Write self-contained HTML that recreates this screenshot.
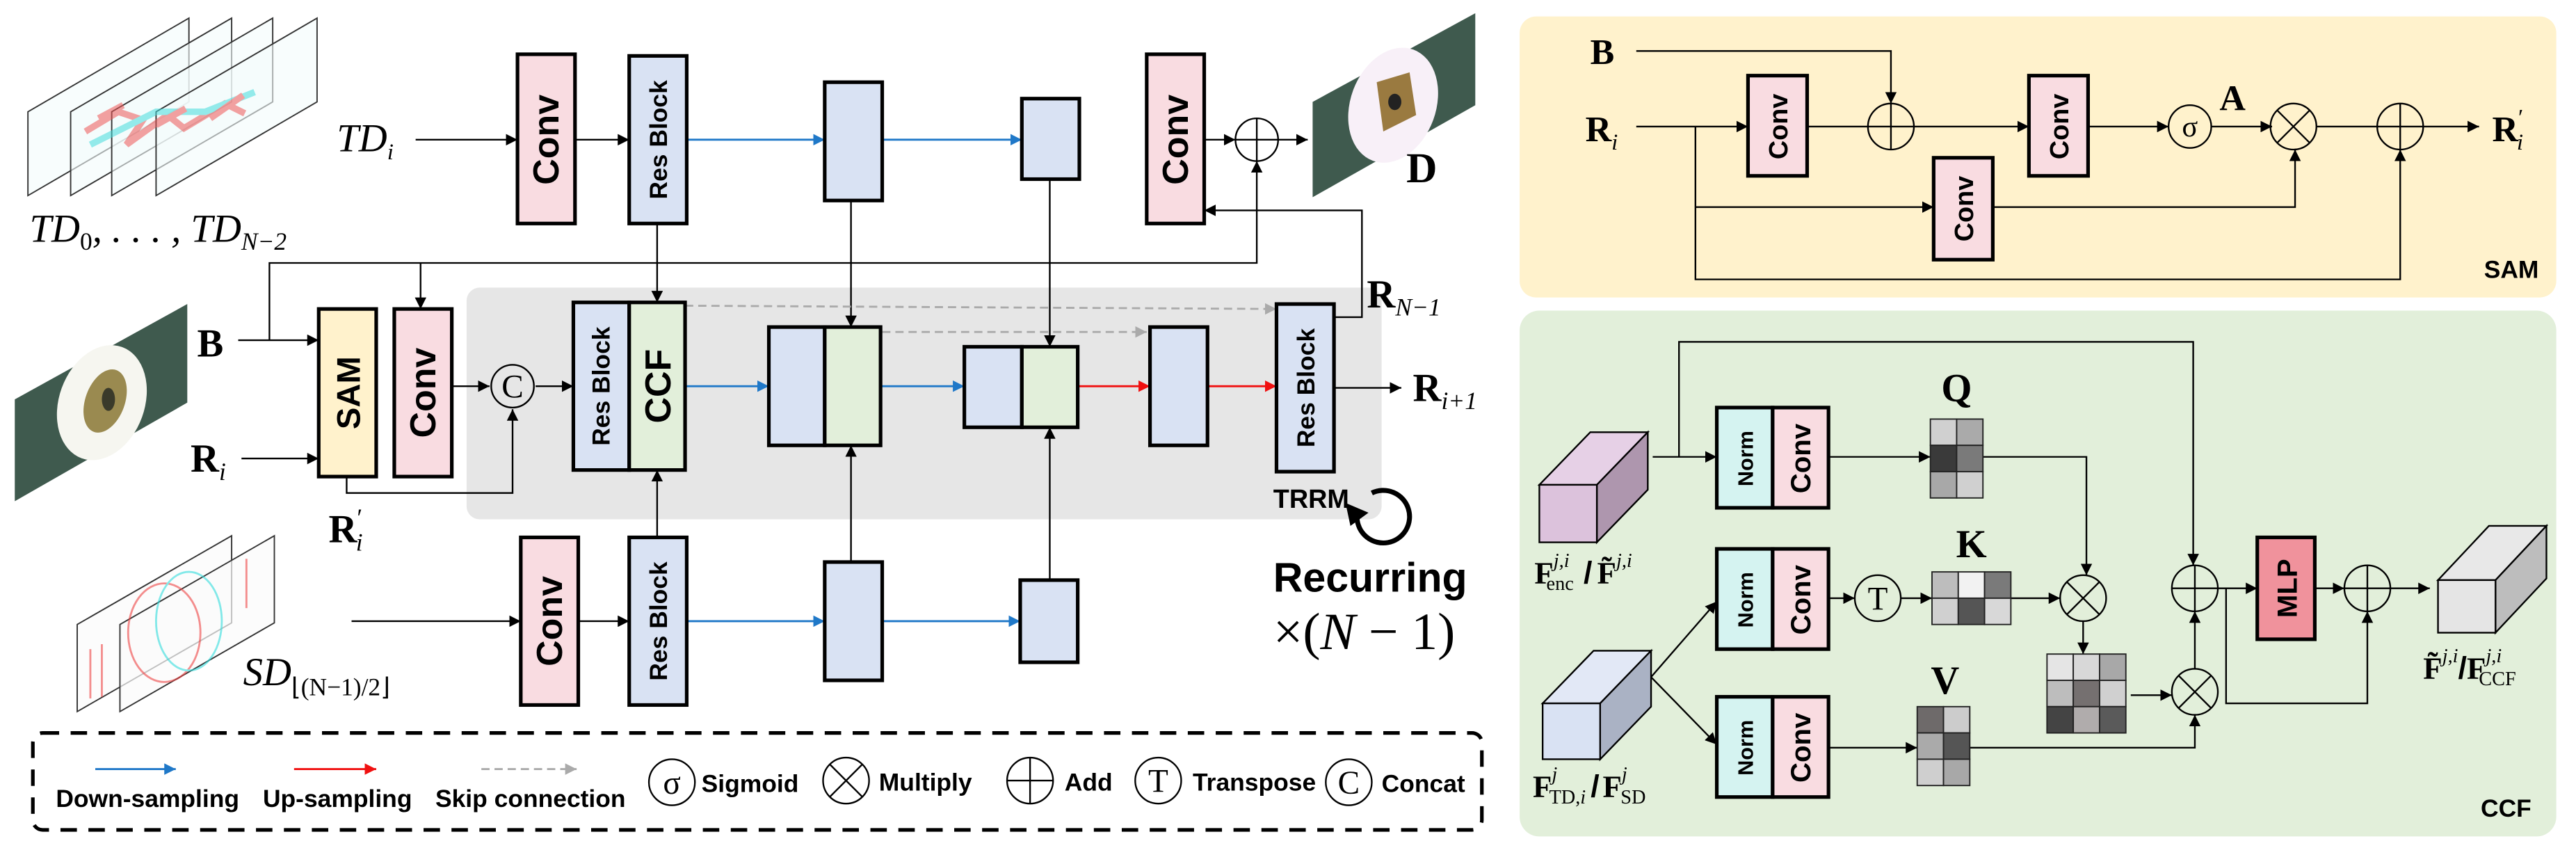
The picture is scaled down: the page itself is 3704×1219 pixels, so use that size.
<!DOCTYPE html>
<html><head><meta charset="utf-8"><style>
html,body{margin:0;padding:0;background:#fff;}
svg{display:block;}
.s{font-family:"Liberation Sans",sans-serif;font-weight:bold;}
.n{font-family:"Liberation Sans Narrow","Liberation Sans",sans-serif;font-weight:bold;}
.m{font-family:"Liberation Serif",serif;}
</style></head><body>
<svg width="3704" height="1219" viewBox="0 0 1568 516" xmlns="http://www.w3.org/2000/svg">
<defs>
<marker id="ak" viewBox="0 0 10 10" refX="10" refY="5" markerWidth="7" markerHeight="7" markerUnits="userSpaceOnUse" orient="auto"><path d="M0,0L10,5L0,10z" fill="#000"/></marker>
<marker id="ab" viewBox="0 0 10 10" refX="10" refY="5" markerWidth="7" markerHeight="7" markerUnits="userSpaceOnUse" orient="auto"><path d="M0,0L10,5L0,10z" fill="#1f78c8"/></marker>
<marker id="ar" viewBox="0 0 10 10" refX="10" refY="5" markerWidth="7" markerHeight="7" markerUnits="userSpaceOnUse" orient="auto"><path d="M0,0L10,5L0,10z" fill="#f01010"/></marker>
<marker id="ag" viewBox="0 0 10 10" refX="10" refY="5" markerWidth="7" markerHeight="7" markerUnits="userSpaceOnUse" orient="auto"><path d="M0,0L10,5L0,10z" fill="#aaa"/></marker>
</defs>

<rect x="284" y="175" width="557" height="141" rx="8" fill="#e6e6e6"/>

<g stroke="#333" stroke-width="0.8" fill="#f4fbfb" fill-opacity="0.6">
<path d="M17,68L115,11L115,62L17,119Z"/>
<path d="M43,68L141,11L141,62L43,119Z"/>
<path d="M68,68L166,11L166,62L68,119Z"/>
<path d="M95,68L193,11L193,62L95,119Z"/>
</g>
<g fill="none" stroke-width="4" opacity="0.55">
<path d="M52,80 l20,-12 l15,5 l-10,15 l25,-18 l10,8 l25,-15 l12,6" stroke="#ee5555"/>
<path d="M55,88 l40,-20 l30,0 l30,-12" stroke="#44dddd"/>
<path d="M60,72 l15,-8 m20,12 l18,-10 m15,6 l20,-14" stroke="#ee5555"/>
</g>
<text class="m" font-style="italic" font-size="24" x="18" y="147">TD<tspan font-size="15" dy="5" font-style="normal">0</tspan><tspan dy="-5">, . . . , TD</tspan><tspan font-size="15" dy="5">N−2</tspan></text>

<g stroke="#333" stroke-width="0.8" fill="#fbfbfb" fill-opacity="0.7">
<path d="M47,380L141,326L141,379L47,433Z"/>
<path d="M73,380L167,326L167,379L73,433Z"/>
</g>
<g fill="none" stroke-width="1.2" opacity="0.6">
<ellipse cx="100" cy="385" rx="22" ry="30" stroke="#e44"/>
<ellipse cx="115" cy="378" rx="20" ry="30" stroke="#3dd"/>
<path d="M55,395 v30 M62,392 v32 M150,340 v30" stroke="#e44"/>
</g>
<text class="m" font-style="italic" font-size="24" x="148" y="417">SD<tspan font-size="15" dy="6" font-style="normal">⌊(N−1)/2⌋</tspan></text>

<path d="M9,243L114,185L114,245L9,305Z" fill="#3f5a4e"/>
<ellipse cx="62" cy="245" rx="26" ry="36" fill="#f6f6f0" transform="rotate(20 62 245)"/>
<ellipse cx="64" cy="244" rx="12" ry="20" fill="#9a8a50" transform="rotate(20 64 244)"/>
<ellipse cx="66" cy="243" rx="4" ry="7" fill="#3a3a2a"/>
<path d="M799,62L898,8L898,64L799,120Z" fill="#3f5a4e"/>
<ellipse cx="848" cy="64" rx="26" ry="36" fill="#f8f0f8" transform="rotate(20 848 64)"/>
<path d="M838,50 L858,44 L862,70 L842,80Z" fill="#9a7a40"/>
<ellipse cx="849" cy="62" rx="4" ry="5" fill="#222"/>

<text class="m" font-style="italic" font-size="24" x="205" y="92">TD<tspan font-size="14" dy="5">i</tspan></text>
<text class="m" font-weight="bold" font-size="26" x="856" y="111">D</text>
<text class="m" font-weight="bold" font-size="24" x="120" y="217">B</text>
<text class="m" font-weight="bold" font-size="24" x="116" y="287">R<tspan font-style="italic" font-weight="normal" font-size="15" dy="5">i</tspan></text>
<text class="m" font-weight="bold" font-size="24" x="200" y="330">R<tspan font-weight="normal" font-size="15" dy="-10">′</tspan><tspan font-style="italic" font-weight="normal" font-size="15" dx="-4" dy="15">i</tspan></text>
<text class="m" font-weight="bold" font-size="24" x="832" y="187">R<tspan font-style="italic" font-weight="normal" font-size="15" dy="5">N−1</tspan></text>
<text class="m" font-weight="bold" font-size="24" x="860" y="244">R<tspan font-style="italic" font-weight="normal" font-size="15" dy="5">i+1</tspan></text>
<text class="s" font-size="16" x="775" y="309">TRRM</text>
<text class="s" font-size="25" x="775" y="360">Recurring</text>
<text class="m" font-size="32" x="775" y="395">×(<tspan font-style="italic">N</tspan> − 1)</text>
<path d="M835,300 A16,16 0 1 1 826,315" fill="none" stroke="#000" stroke-width="3"/>
<path d="M819,306 L833,312 L822,320Z" fill="#000"/>

<g stroke="#000" stroke-width="1" fill="none">
<line x1="253" y1="85" x2="315" y2="85" marker-end="url(#ak)"/>
<line x1="350" y1="85" x2="383" y2="85" marker-end="url(#ak)"/>
<line x1="733" y1="85" x2="752" y2="85" marker-end="url(#ak)"/>
<line x1="778" y1="85" x2="796" y2="85" marker-end="url(#ak)"/>
<polyline points="812,193 829,193 829,128 733,128" marker-end="url(#ak)"/>
<line x1="145" y1="207" x2="194" y2="207" marker-end="url(#ak)"/>
<polyline points="164,207 164,160 765,160 765,98" marker-end="url(#ak)"/>
<line x1="256" y1="160" x2="256" y2="188" marker-end="url(#ak)"/>
<line x1="147" y1="279" x2="194" y2="279" marker-end="url(#ak)"/>
<line x1="275" y1="235" x2="298" y2="235" marker-end="url(#ak)"/>
<line x1="326" y1="235" x2="349" y2="235" marker-end="url(#ak)"/>
<polyline points="211,290 211,300 312,300 312,249" marker-end="url(#ak)"/>
<line x1="400" y1="136" x2="400" y2="184" marker-end="url(#ak)"/>
<line x1="400" y1="327" x2="400" y2="286" marker-end="url(#ak)"/>
<line x1="518" y1="122" x2="518" y2="199" marker-end="url(#ak)"/>
<line x1="518" y1="342" x2="518" y2="271" marker-end="url(#ak)"/>
<line x1="639" y1="109" x2="639" y2="211" marker-end="url(#ak)"/>
<line x1="639" y1="353" x2="639" y2="260" marker-end="url(#ak)"/>
<line x1="812" y1="236" x2="853" y2="236" marker-end="url(#ak)"/>
<line x1="214" y1="378" x2="317" y2="378" marker-end="url(#ak)"/>
<line x1="352" y1="378" x2="383" y2="378" marker-end="url(#ak)"/>
</g>
<g stroke="#1f78c8" stroke-width="1.2">
<line x1="418" y1="85" x2="502" y2="85" marker-end="url(#ab)"/>
<line x1="537" y1="85" x2="622" y2="85" marker-end="url(#ab)"/>
<line x1="417" y1="235" x2="468" y2="235" marker-end="url(#ab)"/>
<line x1="536" y1="235" x2="587" y2="235" marker-end="url(#ab)"/>
<line x1="418" y1="378" x2="502" y2="378" marker-end="url(#ab)"/>
<line x1="537" y1="378" x2="621" y2="378" marker-end="url(#ab)"/>
</g>
<g stroke="#f01010" stroke-width="1.2">
<line x1="656" y1="235" x2="700" y2="235" marker-end="url(#ar)"/>
<line x1="735" y1="235" x2="777" y2="235" marker-end="url(#ar)"/>
</g>
<g stroke="#aaa" stroke-width="1.2" stroke-dasharray="5,3">
<line x1="417" y1="186" x2="777" y2="188" marker-end="url(#ag)"/>
<line x1="537" y1="202" x2="698" y2="202" marker-end="url(#ag)"/>
</g>

<g stroke="#000" stroke-width="2.2">
<rect x="315" y="33" width="35" height="103" fill="#f9dce1"/>
<rect x="383" y="34" width="35" height="102" fill="#d9e2f3"/>
<rect x="502" y="50" width="35" height="72" fill="#d9e2f3"/>
<rect x="622" y="60" width="35" height="49" fill="#d9e2f3"/>
<rect x="698" y="33" width="35" height="103" fill="#f9dce1"/>
<rect x="194" y="188" width="35" height="102" fill="#fff2cc"/>
<rect x="240" y="188" width="35" height="102" fill="#f9dce1"/>
<rect x="349" y="184" width="34" height="102" fill="#d9e2f3"/>
<rect x="383" y="184" width="34" height="102" fill="#e2efda"/>
<rect x="468" y="199" width="34" height="72" fill="#d9e2f3"/>
<rect x="502" y="199" width="34" height="72" fill="#e2efda"/>
<rect x="587" y="211" width="35" height="49" fill="#d9e2f3"/>
<rect x="622" y="211" width="34" height="49" fill="#e2efda"/>
<rect x="700" y="199" width="35" height="72" fill="#d9e2f3"/>
<rect x="777" y="185" width="35" height="102" fill="#d9e2f3"/>
<rect x="317" y="327" width="35" height="102" fill="#f9dce1"/>
<rect x="383" y="327" width="35" height="102" fill="#d9e2f3"/>
<rect x="502" y="342" width="35" height="72" fill="#d9e2f3"/>
<rect x="621" y="353" width="35" height="50" fill="#d9e2f3"/>
</g>
<g class="s">
<text font-size="22" transform="translate(340,85) rotate(-90)" text-anchor="middle">Conv</text>
<text font-size="15" transform="translate(406,85) rotate(-90)" text-anchor="middle">Res Block</text>
<text font-size="22" transform="translate(723,85) rotate(-90)" text-anchor="middle">Conv</text>
<text font-size="20" transform="translate(219,239) rotate(-90)" text-anchor="middle">SAM</text>
<text font-size="22" transform="translate(265,239) rotate(-90)" text-anchor="middle">Conv</text>
<text font-size="15" transform="translate(371,235) rotate(-90)" text-anchor="middle">Res Block</text>
<text font-size="22" transform="translate(408,235) rotate(-90)" text-anchor="middle">CCF</text>
<text font-size="15" transform="translate(800,236) rotate(-90)" text-anchor="middle">Res Block</text>
<text font-size="22" transform="translate(342,378) rotate(-90)" text-anchor="middle">Conv</text>
<text font-size="15" transform="translate(406,378) rotate(-90)" text-anchor="middle">Res Block</text>
</g>
<g fill="#fff" stroke="#000" stroke-width="1">
<circle cx="765" cy="85" r="13"/>
<circle cx="312" cy="235" r="13" fill="none"/>
</g>
<path d="M752,85h26M765,72v26" stroke="#000" stroke-width="1"/>
<text class="m" font-size="20" x="312" y="242" text-anchor="middle">C</text>

<rect x="20" y="446" width="882" height="59" rx="6" fill="none" stroke="#000" stroke-width="2.2" stroke-dasharray="10,7"/>
<line x1="58" y1="468" x2="107" y2="468" stroke="#1f78c8" stroke-width="1.2" marker-end="url(#ab)"/>
<line x1="179" y1="468" x2="229" y2="468" stroke="#f01010" stroke-width="1.2" marker-end="url(#ar)"/>
<line x1="293" y1="468" x2="351" y2="468" stroke="#aaa" stroke-width="1.2" stroke-dasharray="5,3" marker-end="url(#ag)"/>
<g class="n" font-size="15">
<text x="34" y="491">Down-sampling</text>
<text x="160" y="491">Up-sampling</text>
<text x="265" y="491">Skip connection</text>
<text x="427" y="482">Sigmoid</text>
<text x="535" y="481">Multiply</text>
<text x="648" y="481">Add</text>
<text x="726" y="481">Transpose</text>
<text x="841" y="482">Concat</text>
</g>
<g fill="none" stroke="#000" stroke-width="1">
<circle cx="409" cy="476" r="14"/><circle cx="515" cy="475" r="14"/><circle cx="627" cy="475" r="14"/><circle cx="705" cy="475" r="14"/><circle cx="821" cy="476" r="14"/>
<path d="M505,465L525,485M525,465L505,485M613,475h28M627,461v28"/>
</g>
<g class="m" font-size="20" text-anchor="middle">
<text x="409" y="483">σ</text><text x="705" y="482">T</text><text x="821" y="483">C</text>
</g>

<rect x="925" y="10" width="631" height="171" rx="10" fill="#fff2cc"/>
<text class="m" font-weight="bold" font-size="22" x="968" y="39">B</text>
<text class="m" font-weight="bold" font-size="22" x="965" y="86">R<tspan font-style="italic" font-weight="normal" font-size="14" dy="5">i</tspan></text>
<text class="m" font-weight="bold" font-size="22" x="1517" y="86">R<tspan font-weight="normal" font-size="14" dy="-10">′</tspan><tspan font-style="italic" font-weight="normal" font-size="14" dx="-4" dy="15">i</tspan></text>
<text class="m" font-weight="bold" font-size="22" x="1351" y="67">A</text>
<text class="s" font-size="15" x="1512" y="169">SAM</text>
<g stroke="#000" stroke-width="1" fill="none">
<polyline points="996,31 1151,31 1151,63" marker-end="url(#ak)"/>
<line x1="996" y1="77" x2="1064" y2="77" marker-end="url(#ak)"/>
<line x1="1100" y1="77" x2="1137" y2="77"/>
<line x1="1165" y1="77" x2="1235" y2="77" marker-end="url(#ak)"/>
<line x1="1271" y1="77" x2="1320" y2="77" marker-end="url(#ak)"/>
<line x1="1346" y1="77" x2="1383" y2="77" marker-end="url(#ak)"/>
<line x1="1410" y1="77" x2="1447" y2="77"/>
<line x1="1475" y1="77" x2="1509" y2="77" marker-end="url(#ak)"/>
<polyline points="1032,77 1032,170 1461,170 1461,91" marker-end="url(#ak)"/>
<line x1="1032" y1="126" x2="1177" y2="126" marker-end="url(#ak)"/>
<polyline points="1213,126 1397,126 1397,91" marker-end="url(#ak)"/>
</g>
<g stroke="#000" stroke-width="2.2" fill="#f9dce1">
<rect x="1064" y="46" width="36" height="61"/>
<rect x="1235" y="46" width="36" height="61"/>
<rect x="1177" y="96" width="36" height="62"/>
</g>
<g class="s" font-size="16" text-anchor="middle">
<text transform="translate(1088,77) rotate(-90)">Conv</text>
<text transform="translate(1259,77) rotate(-90)">Conv</text>
<text transform="translate(1201,127) rotate(-90)">Conv</text>
</g>
<g fill="none" stroke="#000" stroke-width="1">
<circle cx="1151" cy="77" r="14"/><circle cx="1333" cy="77" r="13"/><circle cx="1396" cy="77" r="14"/><circle cx="1461" cy="77" r="14"/>
<path d="M1137,77h28M1151,63v28M1447,77h28M1461,63v28M1386,67l20,20M1406,67l-20,20"/>
</g>
<text class="m" font-size="18" x="1333" y="83" text-anchor="middle">σ</text>

<rect x="925" y="189" width="631" height="320" rx="12" fill="#e2efda"/>
<text class="s" font-size="15" x="1510" y="497">CCF</text>
<g stroke="#000" stroke-width="1">
<path d="M937,295L968,263L1003,263L972,295Z" fill="#e6d0e6"/>
<path d="M972,295L1003,263L1003,298L972,330Z" fill="#ae96ae"/>
<rect x="937" y="295" width="35" height="35" fill="#dcc2dc"/>
<path d="M939,428L970,396L1005,396L974,428Z" fill="#e2e8f6"/>
<path d="M974,428L1005,396L1005,430L974,462Z" fill="#aab2c4"/>
<rect x="939" y="428" width="35" height="34" fill="#d9e2f3"/>
<path d="M1484,353L1515,320L1550,320L1519,353Z" fill="#e8e8e8"/>
<path d="M1519,353L1550,320L1550,352L1519,385Z" fill="#bdbdbd"/>
<rect x="1484" y="353" width="35" height="32" fill="#e5e5e5"/>
</g>
<text class="m" font-weight="bold" font-size="19" x="934" y="355">F<tspan font-style="italic" font-weight="normal" font-size="12" dy="-10">j,i</tspan><tspan font-weight="normal" font-size="12" dx="-14" dy="14">enc</tspan><tspan dx="6" dy="-4" font-family="Liberation Sans">/</tspan><tspan dx="3">F̃</tspan><tspan font-style="italic" font-weight="normal" font-size="12" dy="-10">j,i</tspan></text>
<text class="m" font-weight="bold" font-size="19" x="933" y="485">F<tspan font-style="italic" font-weight="normal" font-size="12" dy="-10">j</tspan><tspan font-weight="normal" font-size="12" dx="-5" dy="14">TD,<tspan font-style="italic">i</tspan></tspan><tspan dx="3" dy="-4" font-family="Liberation Sans">/</tspan><tspan dx="2">F</tspan><tspan font-style="italic" font-weight="normal" font-size="12" dy="-10">j</tspan><tspan font-weight="normal" font-size="12" dx="-4" dy="14">SD</tspan></text>
<text class="m" font-weight="bold" font-size="19" x="1475" y="413">F̃<tspan font-style="italic" font-weight="normal" font-size="12" dy="-10">j,i</tspan><tspan dy="10" font-family="Liberation Sans">/</tspan>F<tspan font-style="italic" font-weight="normal" font-size="12" dy="-10">j,i</tspan><tspan font-weight="normal" font-size="12" dx="-14" dy="14">CCF</tspan></text>
<g class="m" font-weight="bold" font-size="24" text-anchor="middle">
<text x="1191" y="244">Q</text><text x="1200" y="339">K</text><text x="1184" y="422">V</text>
</g>
<g stroke="#000" stroke-width="1" fill="none">
<line x1="1006" y1="278" x2="1045" y2="278" marker-end="url(#ak)"/>
<polyline points="1022,278 1022,208 1335,208 1335,344" marker-end="url(#ak)"/>
<line x1="1113" y1="278" x2="1175" y2="278" marker-end="url(#ak)"/>
<polyline points="1207,278 1270,278 1270,350" marker-end="url(#ak)"/>
<line x1="1005" y1="412" x2="1045" y2="366" marker-end="url(#ak)"/>
<line x1="1005" y1="412" x2="1045" y2="453" marker-end="url(#ak)"/>
<line x1="1113" y1="364" x2="1129" y2="364" marker-end="url(#ak)"/>
<line x1="1157" y1="364" x2="1176" y2="364" marker-end="url(#ak)"/>
<line x1="1224" y1="364" x2="1254" y2="364" marker-end="url(#ak)"/>
<line x1="1268" y1="378" x2="1268" y2="398" marker-end="url(#ak)"/>
<line x1="1297" y1="423" x2="1322" y2="423" marker-end="url(#ak)"/>
<line x1="1113" y1="455" x2="1167" y2="455" marker-end="url(#ak)"/>
<polyline points="1199,455 1336,455 1336,435" marker-end="url(#ak)"/>
<line x1="1336" y1="407" x2="1336" y2="372" marker-end="url(#ak)"/>
<line x1="1350" y1="358" x2="1374" y2="358" marker-end="url(#ak)"/>
<line x1="1409" y1="358" x2="1427" y2="358" marker-end="url(#ak)"/>
<line x1="1455" y1="358" x2="1479" y2="358" marker-end="url(#ak)"/>
<polyline points="1355,358 1355,428 1441,428 1441,372" marker-end="url(#ak)"/>
</g>
<g stroke="#000" stroke-width="2.2">
<rect x="1045" y="248" width="34" height="61" fill="#d5f3f1"/><rect x="1079" y="248" width="34" height="61" fill="#f9dce1"/>
<rect x="1045" y="334" width="34" height="61" fill="#d5f3f1"/><rect x="1079" y="334" width="34" height="61" fill="#f9dce1"/>
<rect x="1045" y="424" width="34" height="61" fill="#d5f3f1"/><rect x="1079" y="424" width="34" height="61" fill="#f9dce1"/>
<rect x="1374" y="327" width="35" height="62" fill="#f0929c"/>
</g>
<g class="s" text-anchor="middle">
<text font-size="13" transform="translate(1067,279) rotate(-90)">Norm</text>
<text font-size="17" transform="translate(1102,279) rotate(-90)">Conv</text>
<text font-size="13" transform="translate(1067,365) rotate(-90)">Norm</text>
<text font-size="17" transform="translate(1102,365) rotate(-90)">Conv</text>
<text font-size="13" transform="translate(1067,455) rotate(-90)">Norm</text>
<text font-size="17" transform="translate(1102,455) rotate(-90)">Conv</text>
<text font-size="17" transform="translate(1398,358) rotate(-90)">MLP</text>
</g>
<g stroke="#222" stroke-width="0.8">
<rect x="1175" y="255" width="16" height="16" fill="#d0d0d0"/><rect x="1191" y="255" width="16" height="16" fill="#aaa"/>
<rect x="1175" y="271" width="16" height="16" fill="#3a3a3a"/><rect x="1191" y="271" width="16" height="16" fill="#7a7a7a"/>
<rect x="1175" y="287" width="16" height="16" fill="#a8a8a8"/><rect x="1191" y="287" width="16" height="16" fill="#d0d0d0"/>

<rect x="1176" y="348" width="16" height="16" fill="#bdbdbd"/><rect x="1192" y="348" width="16" height="16" fill="#f2f2f2"/><rect x="1208" y="348" width="16" height="16" fill="#7a7a7a"/>
<rect x="1176" y="364" width="16" height="16" fill="#d0d0d0"/><rect x="1192" y="364" width="16" height="16" fill="#555"/><rect x="1208" y="364" width="16" height="16" fill="#d8d8d8"/>

<rect x="1167" y="430" width="16" height="16" fill="#6e6a6a"/><rect x="1183" y="430" width="16" height="16" fill="#ccc"/>
<rect x="1167" y="446" width="16" height="16" fill="#aaa"/><rect x="1183" y="446" width="16" height="16" fill="#555"/>
<rect x="1167" y="462" width="16" height="16" fill="#cfcfcf"/><rect x="1183" y="462" width="16" height="16" fill="#a8a8a8"/>

<rect x="1246" y="398" width="16" height="16" fill="#e5e5e5"/><rect x="1262" y="398" width="16" height="16" fill="#d8d8d8"/><rect x="1278" y="398" width="16" height="16" fill="#a8a8a8"/>
<rect x="1246" y="414" width="16" height="16" fill="#bdbdbd"/><rect x="1262" y="414" width="16" height="16" fill="#757070"/><rect x="1278" y="414" width="16" height="16" fill="#d0d0d0"/>
<rect x="1246" y="430" width="16" height="16" fill="#444"/><rect x="1262" y="430" width="16" height="16" fill="#b0acac"/><rect x="1278" y="430" width="16" height="16" fill="#5a5a5a"/>
</g>
<g fill="none" stroke="#000" stroke-width="1">
<circle cx="1143" cy="364" r="14"/>
<circle cx="1268" cy="364" r="14"/><circle cx="1336" cy="421" r="14"/>
<circle cx="1336" cy="358" r="14"/><circle cx="1441" cy="358" r="14"/>
<path d="M1258,354l20,20M1278,354l-20,20M1326,411l20,20M1346,411l-20,20M1322,358h28M1336,344v28M1427,358h28M1441,344v28"/>
</g>
<text class="m" font-size="20" x="1143" y="371" text-anchor="middle">T</text>
</svg>
</body></html>
